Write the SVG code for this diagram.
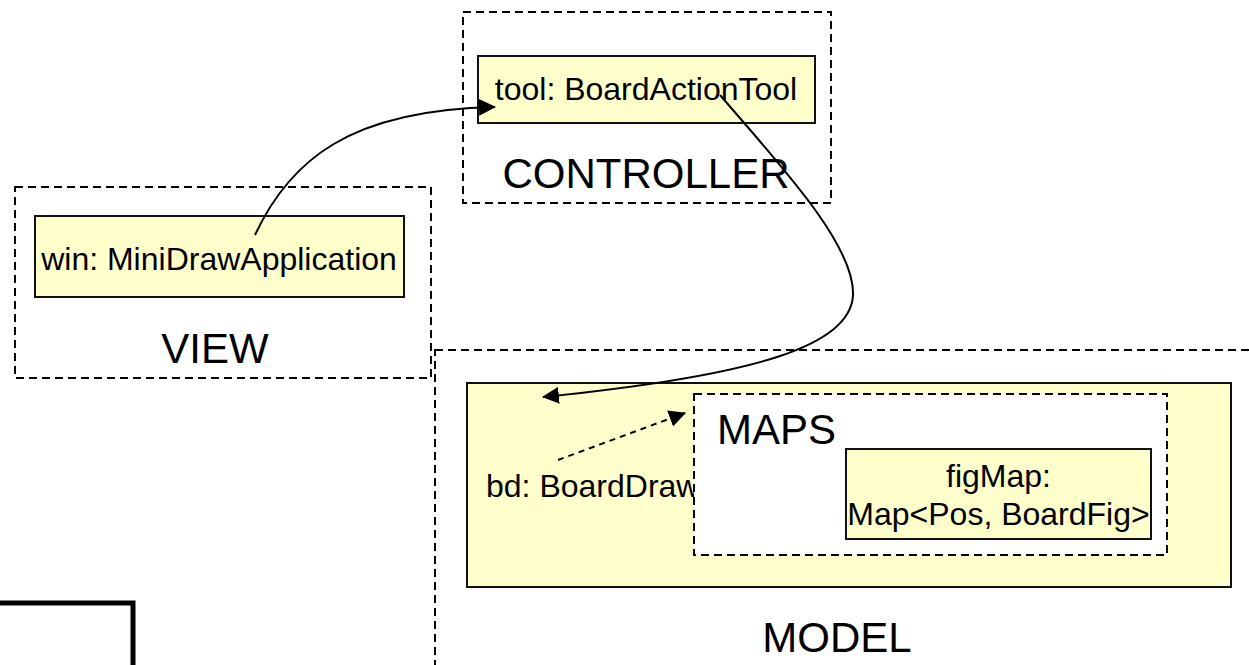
<svg xmlns="http://www.w3.org/2000/svg" width="1249" height="665" viewBox="0 0 1249 665">
<defs>
<style>
.pkg{fill:none;stroke:#000;stroke-width:2;stroke-dasharray:8 5}
.obj{fill:#ffffcc;stroke:#111;stroke-width:2}
.t{font-family:"Liberation Sans",Arial,sans-serif;fill:#000}
.lbl{font-size:32px}
.big{font-size:42px}
.conn{fill:none;stroke:#000;stroke-width:2}
</style>
<marker id="ah" viewBox="0 0 16 16" refX="15" refY="8" markerWidth="17" markerHeight="17" markerUnits="userSpaceOnUse" orient="auto">
<path d="M0,0 L16,8 L0,16 Z" fill="#000"/>
</marker>
</defs>
<rect width="1249" height="665" fill="#fff"/>

<g id="model">
<rect class="pkg" x="435" y="350" width="830" height="330"/>
<text class="t big" x="837" y="652" text-anchor="middle">MODEL</text>
</g>

<g id="view">
<rect class="pkg" x="15" y="187" width="416" height="191"/>
<text class="t big" x="215" y="363" text-anchor="middle">VIEW</text>
</g>

<g id="controller">
<rect class="pkg" x="463" y="12" width="368" height="191"/>
<text class="t big" x="646" y="188" text-anchor="middle">CONTROLLER</text>
</g>

<g id="win">
<rect class="obj" x="35" y="216" width="369" height="81"/>
<text class="t lbl" x="219" y="270" text-anchor="middle">win: MiniDrawApplication</text>
</g>

<g id="tool">
<rect class="obj" x="478" y="56" width="337" height="67"/>
<text class="t lbl" x="646" y="100" text-anchor="middle">tool: BoardActionTool</text>
</g>

<g id="bd">
<rect class="obj" x="467" y="383" width="764" height="204"/>
<text class="t lbl" x="486" y="497">bd: BoardDraw</text>
</g>

<g id="maps">
<rect x="694" y="394" width="473" height="161" fill="#fff" stroke="#000" stroke-width="2" stroke-dasharray="8 5"/>
<text class="t big" x="717" y="444">MAPS</text>
</g>

<g id="figMap">
<rect class="obj" x="846" y="449" width="305" height="90"/>
<text class="t lbl" x="998.5" y="487" text-anchor="middle">figMap:</text>
<text class="t lbl" x="998.5" y="525" text-anchor="middle">Map&lt;Pos, BoardFig&gt;</text>
</g>

<g id="box">
<rect x="-10" y="603" width="143" height="100" fill="none" stroke="#000" stroke-width="5"/>
</g>

<g id="connectors">
<path class="conn" d="M255,235 C290,160 350,110 495,107" marker-end="url(#ah)"/>
<path class="conn" d="M720,95 C780,165 855,245 853,295 C851,345 760,375 543,397" marker-end="url(#ah)"/>
<path class="conn" d="M558,460 L685,413" stroke-dasharray="6 5" marker-end="url(#ah)"/>
</g>
</svg>
